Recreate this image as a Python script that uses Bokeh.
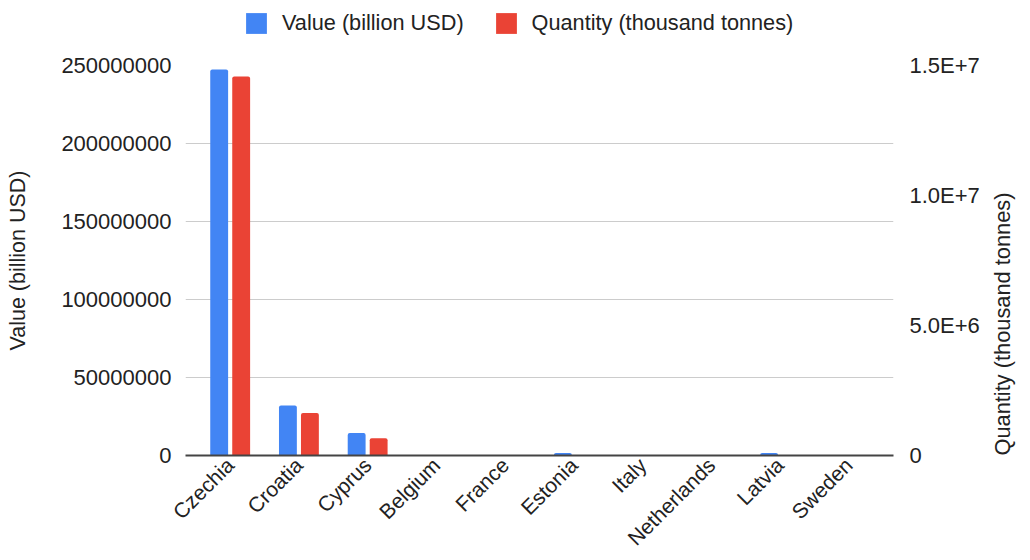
import math
from bokeh.plotting import figure
from bokeh.layouts import column
from bokeh.models import (FactorRange, Range1d, LinearAxis, FixedTicker,
                          CustomJSTickFormatter, Legend, LegendItem, ColumnDataSource)
from bokeh.transform import dodge
from bokeh.embed import file_html
from bokeh.resources import INLINE

countries = ["Czechia", "Croatia", "Cyprus", "Belgium", "France",
             "Estonia", "Italy", "Netherlands", "Latvia", "Sweden"]
value_busd = [247.4e6, 32.0e6, 14.5e6, 0, 0, 1.6e6, 0, 0, 1.6e6, 0]
quantity_kt = [14.58e6, 1.63e6, 0.66e6, 0, 0, 0, 0, 0, 0, 0]
left_ticks = [0, 50e6, 100e6, 150e6, 200e6, 250e6]
right_ticks = [0, 5e6, 10e6, 15e6]
series_names = ["Value (billion USD)", "Quantity (thousand tonnes)"]

FONT = "Liberation Sans"
TXT = "#222222"
BLUE, RED = "#4285F4", "#EA4335"

LEG_H = 50

# ---------------- legend strip (frame aligned with the chart frame) ----------------
lf = figure(width=1030, height=LEG_H, x_range=Range1d(0, 1), y_range=Range1d(0, 1),
            x_axis_type=None, y_axis_type=None,
            min_border_left=185, min_border_right=137, min_border_top=0, min_border_bottom=0,
            output_backend="svg", toolbar_location=None)
lf.outline_line_color = None
lf.grid.visible = False
# zero-height proxies that only carry the legend swatches
d1 = lf.vbar(x=[0], top=[0], width=0.01, fill_color=BLUE, line_color=None)
d2 = lf.vbar(x=[0], top=[0], width=0.01, fill_color=RED, line_color=None)
legend = Legend(items=[LegendItem(label=series_names[0], renderers=[d1]),
                       LegendItem(label=series_names[1], renderers=[d2])],
                orientation="horizontal", location=(58, 14),
                glyph_width=26, glyph_height=26, label_standoff=13, spacing=29,
                padding=0, margin=0, border_line_color=None, background_fill_alpha=0,
                label_text_font=FONT, label_text_font_size="21.7px", label_text_color=TXT)
lf.add_layout(legend, "center")

# ---------------- main chart ----------------
src = ColumnDataSource(dict(country=countries, value=value_busd, qty=quantity_kt))

p = figure(width=1030, height=560 - LEG_H,
           x_range=FactorRange(*countries, range_padding=0.03),
           y_range=Range1d(0, left_ticks[-1]),
           output_backend="svg", toolbar_location=None,
           min_border_left=185, min_border_right=137,
           min_border_top=65 - LEG_H, min_border_bottom=105)
p.extra_y_ranges = {"q": Range1d(0, right_ticks[-1])}
p.outline_line_color = None

p.vbar(x=dodge("country", -0.16, range=p.x_range), top="value", width=0.26,
       source=src, fill_color=BLUE, line_color=None, border_radius=(2, 2, 0, 0))
p.vbar(x=dodge("country", 0.16, range=p.x_range), top="qty", width=0.26,
       source=src, fill_color=RED, line_color=None, border_radius=(2, 2, 0, 0),
       y_range_name="q")

# left axis
ya = p.yaxis[0]
ya.ticker = FixedTicker(ticks=left_ticks)
ya.formatter = CustomJSTickFormatter(code="return tick.toFixed(0);")
ya.axis_line_color = None
ya.major_tick_line_color = None
ya.minor_tick_line_color = None
ya.major_label_standoff = 8
ya.major_label_text_font = FONT
ya.major_label_text_font_size = "22px"
ya.major_label_text_color = TXT
ya.axis_label = series_names[0]
ya.axis_label_text_font = FONT
ya.axis_label_text_font_size = "21.5px"
ya.axis_label_text_font_style = "normal"
ya.axis_label_text_color = TXT
ya.axis_label_standoff = 28

# right axis
ra = LinearAxis(y_range_name="q", ticker=FixedTicker(ticks=right_ticks),
                formatter=CustomJSTickFormatter(code="""
if (tick == 0) return '0';
const e = Math.floor(Math.log10(tick) + 1e-9);
const m = tick / Math.pow(10, e);
return m.toFixed(1) + 'E+' + e;
"""))
ra.axis_line_color = None
ra.major_tick_line_color = None
ra.minor_tick_line_color = None
ra.major_label_standoff = 10
ra.major_label_text_font = FONT
ra.major_label_text_font_size = "22px"
ra.major_label_text_color = TXT
ra.axis_label = series_names[1]
ra.axis_label_orientation = math.pi / 2
ra.axis_label_align = "start"
ra.axis_label_text_font = FONT
ra.axis_label_text_font_size = "21.8px"
ra.axis_label_text_font_style = "normal"
ra.axis_label_text_color = TXT
ra.axis_label_standoff = 20
p.add_layout(ra, "right")

# x axis
xa = p.xaxis[0]
xa.axis_line_color = "#444444"
xa.axis_line_width = 2
xa.major_tick_line_color = None
xa.minor_tick_line_color = None
xa.major_label_orientation = math.pi / 4
xa.major_label_standoff = 0
xa.major_label_text_font = FONT
xa.major_label_text_font_size = "21px"
xa.major_label_text_color = TXT

p.xgrid.grid_line_color = None
p.ygrid.ticker = FixedTicker(ticks=left_ticks)
p.ygrid.grid_line_color = "#cccccc"

layout = column(lf, p, spacing=0)
open("out.html", "w").write(file_html(layout, INLINE))
